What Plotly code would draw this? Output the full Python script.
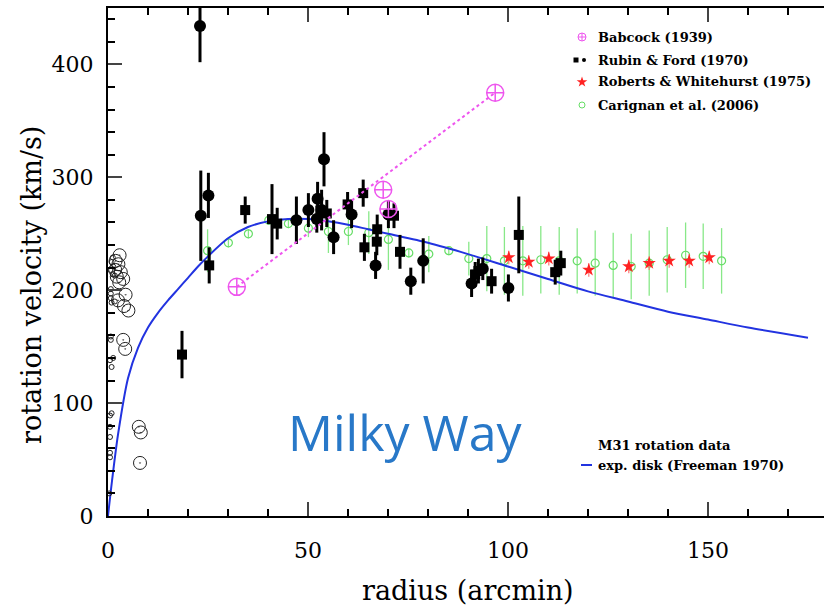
import plotly.graph_objects as go

# ---- M31 rotation data -------------------------------------------------
# Babcock (1939)
babcock_r = [32.2, 68.8, 70.1, 96.8]
babcock_v = [203, 289, 272, 375]

# Rubin & Ford (1970): filled circles
rf_circ_r = [23.0, 23.2, 25.1, 47.1, 50.1, 52.4, 52.2, 53.4, 54.0, 56.4,
             60.9, 66.9, 70.1, 75.7, 78.8, 90.9, 93.7, 100.1]
rf_circ_v = [434, 266, 284, 262, 271, 281, 263, 271, 316, 247,
             267, 222, 267, 208, 226, 206, 219, 202]
rf_circ_e = [32, 40, 20, 21, 15, 15, 12, 18, 24, 15,
             12, 12, 12, 12, 20, 12, 10, 12]

# Rubin & Ford (1970): filled squares
rf_sq_r = [18.5, 25.3, 34.3, 41.0, 42.3, 54.7, 59.9, 63.8, 64.1, 67.3,
           67.2, 71.5, 73.0, 91.8, 92.6, 95.9, 102.7, 111.8, 113.2]
rf_sq_v = [143, 222, 271, 263, 259, 268, 276, 286, 238, 254,
           243, 266, 234, 214, 217, 208, 249, 216, 224]
rf_sq_e = [21, 16, 12, 31, 14, 12, 11, 12, 12, 13,
           12, 11, 15, 11, 11, 11, 34, 11, 11]

# Roberts & Whitehurst (1975)
rw_r = [100.2, 105.2, 110.2, 120.2, 130.2, 135.3, 140.3, 145.3, 150.3]
rw_v = [229, 225, 228, 218, 221, 224, 226, 226, 229]
rw_e = [6, 6, 6, 6, 6, 6, 6, 6, 6]

# Carignan et al. (2006)
car_r = [24.9, 30.1, 35.1, 40.2, 45.1, 50.1, 55.1, 60.1, 65.2, 70.1,
         75.2, 80.2, 85.2, 90.2, 94.7, 99.1, 103.7, 108.2, 112.8, 117.3,
         121.8, 126.3, 130.8, 135.3, 139.8, 144.4, 148.8, 153.4]
car_v = [235, 242, 250, 262, 259, 255, 252, 252, 251, 245,
         233, 232, 235, 228, 228, 226, 226, 227, 226, 226,
         224, 222, 221, 224, 227, 231, 230, 226]
car_e = [19, 4, 4, 4, 4, 8, 19, 12, 19, 27,
         4, 16, 4, 15, 29, 30, 31, 30, 30, 29,
         29, 29, 29, 29, 29, 29, 29, 29]

# inner points (large dotted rings and small rings)
in_big_r = [2.9, 1.9, 2.6, 1.8, 3.2, 2.2, 3.8, 2.8, 4.4, 2.5, 4.0, 5.1,
            3.8, 4.3, 7.7, 8.2, 8.0]
in_big_v = [231, 226, 223, 218, 216, 212, 210, 207, 196, 191, 186, 182,
            156, 148, 79, 74, 47]
in_small_r = [1.2, 0.9, 1.3, 0.6, 1.2, 1.7, 0.7, 0.7, 0.7, 1.7, 0.9, 0.7,
              0.7, 1.3, 0.5, 0.9, 0.9, 0.5, 0.5, 0.5, 0.5, 0.5, 0.3]
in_small_v = [229, 225, 221, 218, 214, 213, 201, 197, 193, 190, 189, 159,
              156, 140, 138, 132, 91, 89, 79, 70, 56, 52, 20]

# exponential disk (Freeman 1970), sampled along the curve
disk_r = [0, 1, 2.5, 5, 7.5, 10, 12.5, 15, 17.5, 20, 22.5, 25, 30, 35, 40, 45,
          50, 55, 60, 65, 70, 80, 90, 100, 110, 120, 130, 140, 150, 160, 175]
disk_v = [0, 31, 72, 122, 149, 167, 180, 191, 201, 211, 221, 230, 246, 256, 261, 263,
          263, 261, 258, 254, 250, 242, 232, 221, 210, 199, 190, 181, 174, 167, 158]

# ---- layout geometry -----------------------------------------------------
W, H = 824, 606
ML, MR, MT, MB = 108, 0, 8, 90
PW, PH = W - ML - MR, H - MT - MB


def px(xpix):
    return (xpix - ML) / PW


def py(ypix):
    return (H - MB - ypix) / PH


BLACK = "#000000"
MAGENTA = "#ee55ee"
RED = "#ff2222"
GREEN = "#66dd66"
BLUE = "#2233e0"

fig = go.Figure()

# Carignan et al.
fig.add_trace(go.Scatter(
    x=car_r, y=car_v, mode="markers",
    marker=dict(symbol="circle-open", size=8, color=GREEN, line=dict(width=1.2)),
    error_y=dict(type="data", array=car_e, color="#88e888", thickness=1.3, width=0),
))

# Roberts & Whitehurst
fig.add_trace(go.Scatter(
    x=rw_r, y=rw_v, mode="markers",
    marker=dict(symbol="star", size=10, color=RED, line=dict(width=0)),
    error_y=dict(type="data", array=rw_e, color="#ff7777", thickness=1.2, width=0),
))

# exponential disk
fig.add_trace(go.Scatter(
    x=disk_r, y=disk_v, mode="lines", line=dict(color=BLUE, width=2, shape="spline", smoothing=0.8),
))

# Rubin & Ford
fig.add_trace(go.Scatter(
    x=rf_sq_r, y=rf_sq_v, mode="markers",
    marker=dict(symbol="square", size=10, color=BLACK),
    error_y=dict(type="data", array=rf_sq_e, color=BLACK, thickness=3, width=0),
    cliponaxis=False,
))
fig.add_trace(go.Scatter(
    x=rf_circ_r, y=rf_circ_v, mode="markers",
    marker=dict(symbol="circle", size=12, color=BLACK),
    error_y=dict(type="data", array=rf_circ_e, color=BLACK, thickness=3, width=0),
))

# Babcock: straight dotted trend between the outermost points, then markers
fig.add_trace(go.Scatter(
    x=[babcock_r[0], babcock_r[-1]], y=[babcock_v[0], babcock_v[-1]], mode="lines",
    line=dict(color=MAGENTA, width=2, dash="dot"),
))
fig.add_trace(go.Scatter(
    x=babcock_r, y=babcock_v, mode="markers",
    marker=dict(symbol="circle-cross-open", size=17, color=MAGENTA, line=dict(width=1.5)),
))

# inner rings
fig.add_trace(go.Scatter(
    x=in_big_r, y=in_big_v, mode="markers",
    marker=dict(symbol="circle-open-dot", size=13, color="#222222", line=dict(width=1)),
    cliponaxis=False,
))
fig.add_trace(go.Scatter(
    x=in_small_r, y=in_small_v, mode="markers",
    marker=dict(symbol="circle-open", size=5, color="#222222", line=dict(width=1)),
    cliponaxis=False,
))

# ---- legend keys (overlay axes in paper units) --------------------------
leg_font = dict(family="DejaVu Serif", size=13, color="black")
fig.add_trace(go.Scatter(
    x=[px(582)], y=[py(37)], xaxis="x2", yaxis="y2", mode="markers",
    marker=dict(symbol="circle-cross-open", size=8, color=MAGENTA, line=dict(width=1)),
))
fig.add_trace(go.Scatter(
    x=[px(576)], y=[py(60)], xaxis="x2", yaxis="y2", mode="markers",
    marker=dict(symbol="square", size=5, color=BLACK),
))
fig.add_trace(go.Scatter(
    x=[px(584)], y=[py(60)], xaxis="x2", yaxis="y2", mode="markers",
    marker=dict(symbol="circle", size=4, color=BLACK),
))
fig.add_trace(go.Scatter(
    x=[px(582)], y=[py(82)], xaxis="x2", yaxis="y2", mode="markers",
    marker=dict(symbol="star", size=8, color=RED),
))
fig.add_trace(go.Scatter(
    x=[px(582)], y=[py(105)], xaxis="x2", yaxis="y2", mode="markers",
    marker=dict(symbol="circle-open", size=6, color=GREEN, line=dict(width=1)),
))
fig.add_trace(go.Scatter(
    x=[px(581), px(592)], y=[py(465), py(465)], xaxis="x2", yaxis="y2", mode="lines",
    line=dict(color=BLUE, width=2),
))

legend_rows = [
    ("Babcock (1939)", 37),
    ("Rubin &amp; Ford (1970)", 60),
    ("Roberts &amp; Whitehurst (1975)", 82),
    ("Carignan et al. (2006)", 105),
    ("M31 rotation data", 445),
    ("exp. disk (Freeman 1970)", 465),
]
annotations = []
for label, ypix in legend_rows:
    annotations.append(dict(
        text="<b>%s</b>" % label, xref="paper", yref="paper", x=px(596), y=py(ypix),
        xanchor="left", yanchor="middle", showarrow=False, font=leg_font,
    ))

# axis titles
title_font = dict(family="DejaVu Serif", size=27, color="black")
annotations.append(dict(
    text="radius (arcmin)", xref="paper", yref="paper", x=px(468), y=py(590),
    xanchor="center", yanchor="middle", showarrow=False, font=title_font,
))
annotations.append(dict(
    text="rotation velocity (km/s)", xref="paper", yref="paper", x=px(32), y=py(285),
    xanchor="center", yanchor="middle", showarrow=False, textangle=-90, font=title_font,
))

# galaxy label
annotations.append(dict(
    text="Milky Way", xref="paper", yref="paper", x=px(405), y=py(432),
    xanchor="center", yanchor="middle", showarrow=False,
    font=dict(family="Open Sans", size=50, color="#2878c8"),
))

tick_font = dict(family="DejaVu Serif", size=22, color="black")
fig.update_layout(
    width=W, height=H,
    margin=dict(l=ML, r=MR, t=MT, b=MB, autoexpand=False),
    paper_bgcolor="white", plot_bgcolor="white",
    showlegend=False,
    annotations=annotations,
    xaxis=dict(
        range=[0, 179], tickvals=[0, 50, 100, 150], ticks="inside", ticklen=14, tickwidth=2,
        showline=True, linewidth=2, linecolor="black", mirror="ticks",
        showgrid=False, zeroline=False, tickfont=tick_font, ticklabelstandoff=14,
        minor=dict(dtick=10, ticks="inside", ticklen=7, tickwidth=1.5, tickcolor="black"),
    ),
    yaxis=dict(
        range=[0, 450], tickvals=[0, 100, 200, 300, 400], ticks="inside", ticklen=14, tickwidth=2,
        showline=True, linewidth=2, linecolor="black",
        showgrid=False, zeroline=False, tickfont=tick_font, ticklabelstandoff=8,
        minor=dict(dtick=20, ticks="inside", ticklen=7, tickwidth=1.5, tickcolor="black"),
    ),
    xaxis2=dict(overlaying="x", range=[0, 1], visible=False, fixedrange=True),
    yaxis2=dict(overlaying="y", range=[0, 1], visible=False, fixedrange=True),
)

fig.write_html("out.html")
